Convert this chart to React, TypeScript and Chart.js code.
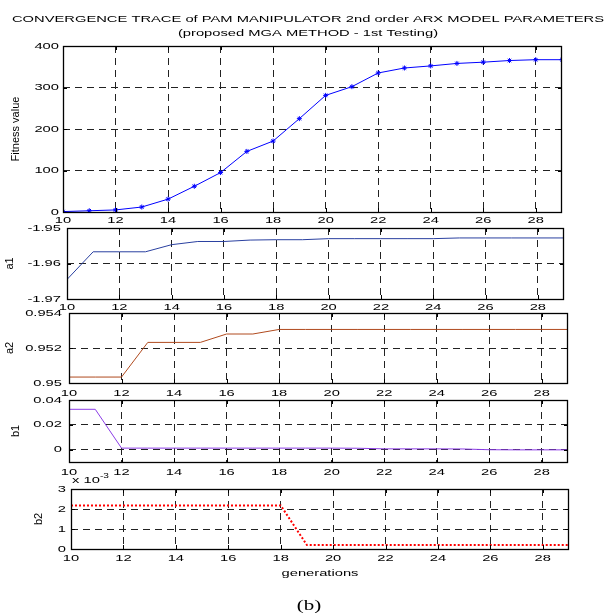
import React, { useEffect, useRef } from 'react';
import { Chart, registerables } from 'chart.js';

Chart.register(...registerables);

// ---------------- data ----------------
const generations = [10, 11, 12, 13, 14, 15, 16, 17, 18, 19, 20, 21, 22, 23, 24, 25, 26, 27, 28, 29];
const fitnessValues = [1, 3, 5, 12, 31, 62, 95, 146, 171, 225, 281, 302, 335, 347, 352, 358, 361, 365, 367, 367];
const a1Values = [-1.9645, -1.9567, -1.9567, -1.9567, -1.9547, -1.9538, -1.9538, -1.9534, -1.9533, -1.9533, -1.953, -1.953, -1.953, -1.953, -1.953, -1.9528, -1.9528, -1.9528, -1.9528, -1.9528];
const a2Values = [0.95034, 0.95034, 0.95034, 0.95232, 0.95232, 0.95232, 0.9528, 0.9528, 0.95306, 0.95306, 0.95306, 0.95306, 0.95306, 0.95306, 0.95306, 0.95306, 0.95306, 0.95306, 0.95306, 0.95306];
const b1Values = [0.0325, 0.0325, 0.0012, 0.0012, 0.0012, 0.0012, 0.0012, 0.0012, 0.0012, 0.0012, 0.0012, 0.0011, 0.0006, 0.0006, 0.0006, 0.0005, -0.0001, -0.0002, -0.0002, -0.0002];
const b2Values = [0.00218, 0.00218, 0.00218, 0.00218, 0.00218, 0.00218, 0.00218, 0.00218, 0.00218, 0.0002, 0.0002, 0.0002, 0.0002, 0.0002, 0.0002, 0.0002, 0.0002, 0.0002, 0.0002, 0.0002];

const xTicks = [10, 12, 14, 16, 18, 20, 22, 24, 26, 28];
const fitnessTicks = [0, 100, 200, 300, 400];
const a1Ticks = [-1.97, -1.96, -1.95];
const a2Ticks = [0.95, 0.952, 0.954];
const b1Ticks = [0, 0.02, 0.04];
const b2Ticks = [0, 0.001, 0.002, 0.003];

const titleLines = [
  'CONVERGENCE TRACE of PAM MANIPULATOR 2nd order ARX MODEL PARAMETERS',
  '(proposed MGA METHOD - 1st Testing)',
];

// ---------------- styling ----------------
const W = 610;
const H = 613;
const STRETCH = 1.55;
const FS = 9.5;
const FONT = "'Liberation Sans', Arial, Helvetica, sans-serif";

Chart.defaults.font.family = FONT;
Chart.defaults.color = '#000';

function widenText(ctx: any) {
  if (ctx.__wide) return;
  ctx.__wide = true;
  const orig = ctx.fillText;
  ctx.fillText = function (text: string, x: number, y: number, maxWidth?: number) {
    const m = this.getTransform();
    if (Math.abs(m.b) > 1e-6 || Math.abs(m.c) > 1e-6) {
      return maxWidth === undefined ? orig.call(this, text, x, y) : orig.call(this, text, x, y, maxWidth);
    }
    this.save();
    this.translate(x, y);
    this.scale(STRETCH, 1);
    if (maxWidth === undefined) orig.call(this, text, 0, 0);
    else orig.call(this, text, 0, 0, maxWidth / STRETCH);
    this.restore();
  };
}

const fmt = (v: number) => String(+v.toFixed(6));

const boxPlugin = {
  id: 'matlabBox',
  afterDraw(chart: any) {
    const { ctx, chartArea: a, scales } = chart;
    const x = scales.x;
    const y = scales.y;
    ctx.save();
    ctx.setLineDash([]);
    ctx.strokeStyle = '#000';
    ctx.lineWidth = 1;
    ctx.beginPath();
    x.ticks.forEach((t: any) => {
      const px = Math.round(x.getPixelForValue(t.value)) + 0.5;
      ctx.moveTo(px, a.bottom);
      ctx.lineTo(px, a.bottom - 4);
      ctx.moveTo(px, a.top);
      ctx.lineTo(px, a.top + 4);
    });
    y.ticks.forEach((t: any) => {
      const py = Math.round(y.getPixelForValue(t.value)) + 0.5;
      ctx.moveTo(a.left, py);
      ctx.lineTo(a.left + 4, py);
      ctx.moveTo(a.right, py);
      ctx.lineTo(a.right - 4, py);
    });
    ctx.stroke();
    ctx.lineWidth = 1.3;
    ctx.strokeRect(Math.round(a.left) + 0.5, Math.round(a.top) + 0.5, Math.round(a.right - a.left) - 1, Math.round(a.bottom - a.top));
    ctx.restore();
  },
};

const exponentPlugin = {
  id: 'exponentLabel',
  afterDraw(chart: any) {
    const { ctx, chartArea: a } = chart;
    ctx.save();
    ctx.fillStyle = '#000';
    ctx.textAlign = 'left';
    ctx.textBaseline = 'alphabetic';
    ctx.font = `${FS}px ${FONT}`;
    ctx.fillText('x 10', a.left + 1, a.top - 6);
    ctx.font = `6.5px ${FONT}`;
    ctx.fillText('-3', a.left + 29, a.top - 11);
    ctx.restore();
  },
};

type Spec = {
  values: number[];
  color: string;
  lineWidth: number;
  dash?: number[];
  points?: boolean;
  yMin: number;
  yMax: number;
  yTicks: number[];
  yLabel: string;
  yFormat: (v: number) => string;
  titlePad: number;
  labelPad: number;
  left: number;
  right: number;
  top: number;
  bottom: number;
  xPad: number;
  xHeight: number;
  xTitle?: string;
  chartTitle?: boolean;
  exponent?: boolean;
};

const panels: Spec[] = [
  {
    values: fitnessValues, color: '#0000ff', lineWidth: 1, points: true,
    yMin: 0, yMax: 400, yTicks: fitnessTicks, yLabel: 'Fitness value', yFormat: fmt,
    titlePad: 2.9, labelPad: 4, left: 63, right: 562, top: 46, bottom: 212, xPad: 3.1, xHeight: 20, chartTitle: true,
  },
  {
    values: a1Values, color: '#2a40a0', lineWidth: 1,
    yMin: -1.97, yMax: -1.95, yTicks: a1Ticks, yLabel: 'a1', yFormat: fmt,
    titlePad: 3.1, labelPad: 6, left: 67, right: 564, top: 228, bottom: 299, xPad: 3.0, xHeight: 20,
  },
  {
    values: a2Values, color: '#b04a1e', lineWidth: 1,
    yMin: 0.95, yMax: 0.954, yTicks: a2Ticks, yLabel: 'a2', yFormat: fmt,
    titlePad: 3.1, labelPad: 7, left: 69, right: 568, top: 313, bottom: 383, xPad: 4.4, xHeight: 20,
  },
  {
    values: b1Values, color: '#8b3ce6', lineWidth: 1,
    yMin: -0.01, yMax: 0.04, yTicks: b1Ticks, yLabel: 'b1', yFormat: fmt,
    titlePad: 9.7, labelPad: 7, left: 69, right: 568, top: 400, bottom: 462, xPad: 4.4, xHeight: 20,
  },
  {
    values: b2Values, color: '#ff0000', lineWidth: 2, dash: [2, 2],
    yMin: 0, yMax: 0.003, yTicks: b2Ticks, yLabel: 'b2', yFormat: (v: number) => String(Math.round(v * 1000)),
    titlePad: 32.2, labelPad: 5, left: 71, right: 569, top: 489, bottom: 549, xPad: 3.5, xHeight: 30,
    xTitle: 'generations', exponent: true,
  },
];

function buildConfig(s: Spec): any {
  const padLeft = s.chartTitle ? 6 : 0;
  const gridColor = '#222';
  const dash = [7, 5];
  const tickFont = { size: FS, family: FONT };
  const scales: any = {
    x: {
      type: 'linear',
      min: 10,
      max: 29,
      afterBuildTicks: (scale: any) => { scale.ticks = xTicks.map((v) => ({ value: v })); },
      afterFit: (scale: any) => { scale.height = s.xHeight; },
      ticks: {
        padding: s.xPad, maxRotation: 0, minRotation: 0, autoSkip: false,
        color: '#000', font: tickFont,
        callback: (v: any) => fmt(Number(v)),
      },
      grid: { color: gridColor, lineWidth: 1, drawTicks: false },
      border: { display: false, dash },
      title: s.xTitle
        ? { display: true, text: s.xTitle, color: '#000', font: tickFont, padding: { top: 0, bottom: 0 } }
        : { display: false },
    },
    y: {
      type: 'linear',
      min: s.yMin,
      max: s.yMax,
      afterBuildTicks: (scale: any) => { scale.ticks = s.yTicks.map((v) => ({ value: v })); },
      afterFit: (scale: any) => { scale.width = s.left - padLeft; },
      ticks: {
        padding: s.labelPad, color: '#000', font: tickFont,
        callback: (v: any) => s.yFormat(Number(v)),
      },
      grid: { color: gridColor, lineWidth: 1, drawTicks: false },
      border: { display: false, dash },
      title: {
        display: true, text: s.yLabel, color: '#000',
        font: { size: 11, family: FONT }, padding: { top: s.titlePad, bottom: 0 },
      },
    },
  };
  let padRight = W - s.right;
  if (s.chartTitle) {
    scales.y2 = {
      type: 'linear',
      position: 'right',
      display: true,
      ticks: { display: false },
      grid: { display: false, drawTicks: false },
      border: { display: false },
      afterFit: (scale: any) => { scale.width = W - s.right; },
    };
    padRight = 0;
  }
  const plugins: any[] = [boxPlugin];
  if (s.exponent) plugins.push(exponentPlugin);
  return {
    type: 'line',
    data: {
      datasets: [
        {
          data: generations.map((g, i) => ({ x: g, y: s.values[i] })),
          borderColor: s.color,
          backgroundColor: s.color,
          borderWidth: s.lineWidth,
          borderDash: s.dash || [],
          borderCapStyle: 'butt',
          pointRadius: s.points ? 2.5 : 0,
          pointStyle: 'star',
          pointBorderColor: s.color,
          pointBorderWidth: 1,
          tension: 0,
          fill: false,
        },
      ],
    },
    options: {
      responsive: false,
      maintainAspectRatio: false,
      animation: false,
      events: [],
      layout: {
        padding: {
          left: padLeft,
          right: padRight,
          top: s.chartTitle ? 0 : s.top,
          bottom: H - s.bottom - s.xHeight,
        },
      },
      plugins: {
        legend: { display: false },
        tooltip: { enabled: false },
        title: s.chartTitle
          ? {
              display: true, text: titleLines, color: '#000',
              font: { size: FS, family: FONT, weight: 'normal', lineHeight: 14 / FS },
              padding: { top: 12, bottom: 6 },
            }
          : { display: false },
      },
      scales,
    },
    plugins,
  };
}

function Panel({ spec }: { spec: Spec }) {
  const ref = useRef<HTMLCanvasElement>(null);
  useEffect(() => {
    const canvas = ref.current!;
    const ctx = canvas.getContext('2d')!;
    widenText(ctx);
    const chart = new Chart(ctx, buildConfig(spec));
    return () => chart.destroy();
  }, [spec]);
  return (
    <canvas
      ref={ref}
      width={W}
      height={H}
      style={{ position: 'absolute', left: 0, top: 0, width: `${W}px`, height: `${H}px` }}
    />
  );
}

export default function App() {
  return (
    <div style={{ position: 'absolute', left: 0, top: 0, width: `${W}px`, height: `${H}px`, background: '#fff', overflow: 'hidden' }}>
      {panels.map((p, i) => (
        <Panel key={i} spec={p} />
      ))}
      <div
        style={{
          position: 'absolute', left: '309px', top: '605px',
          transform: 'translate(-50%, -50%) scaleX(1.4)',
          font: "15px 'Liberation Serif', 'Times New Roman', serif",
          lineHeight: 1, whiteSpace: 'nowrap', color: '#000',
        }}
      >
        (b)
      </div>
    </div>
  );
}
